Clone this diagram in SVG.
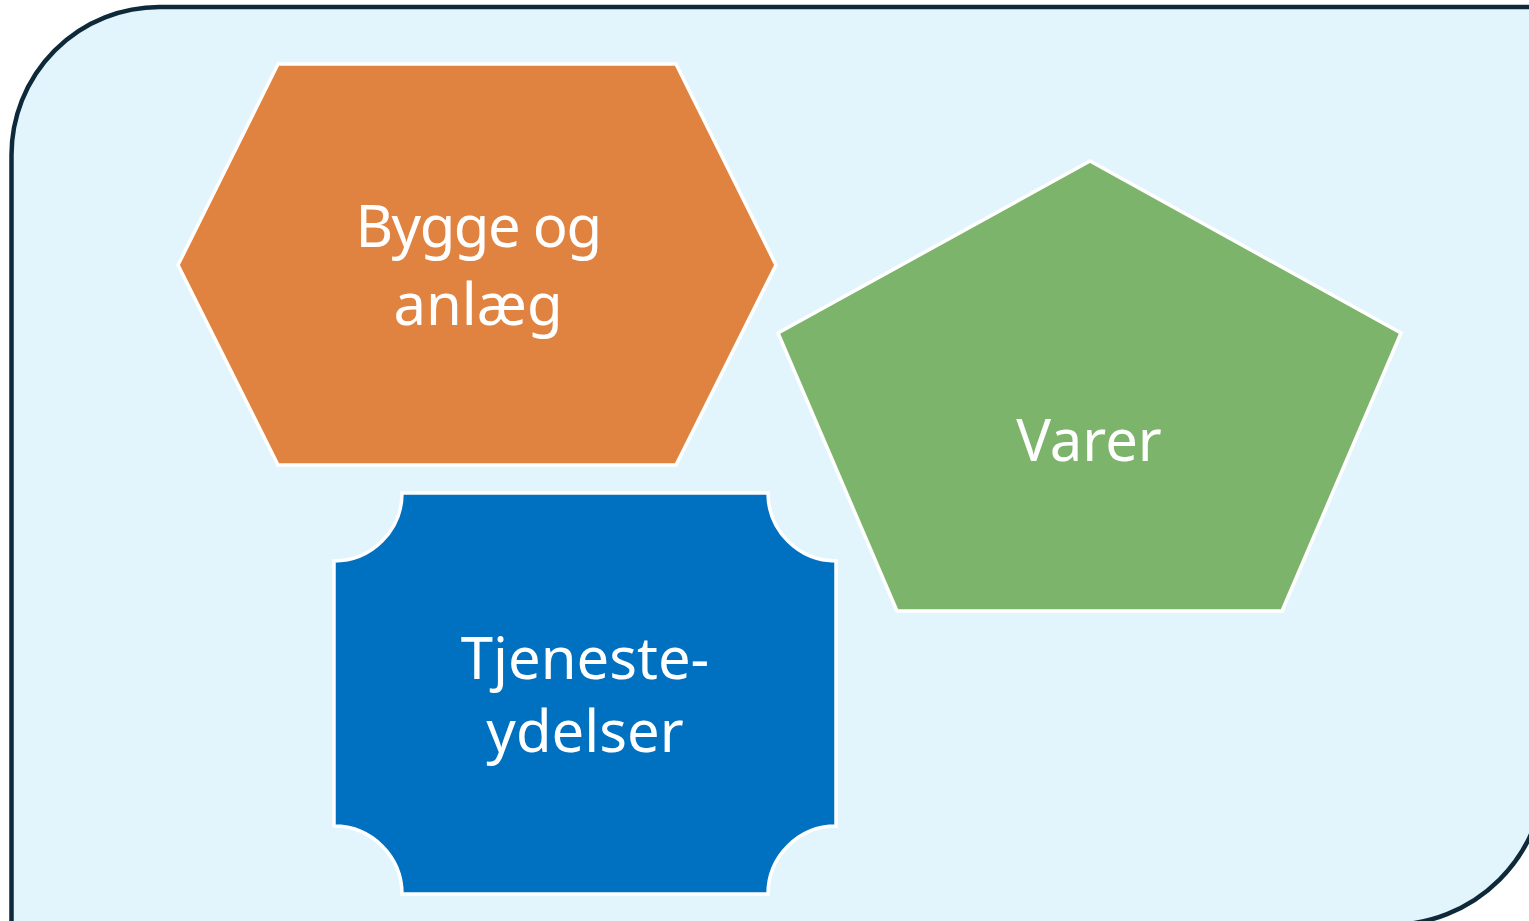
<svg xmlns="http://www.w3.org/2000/svg" width="1529" height="921" viewBox="0 0 1529 921">
<style>
.lbl{font-family:"Noto Sans","Open Sans","Liberation Sans",sans-serif;font-size:58px;fill:#ffffff;text-anchor:middle}
.node{stroke:#ffffff;stroke-width:3.5}
</style>
<rect width="1529" height="921" fill="#ffffff"/>
<path id="bg" d="M11.5 930 V155 A148 148 0 0 1 159.5 7 H1545 V770 A155 155 0 0 1 1390 925 H11.5" fill="#e3f5fc" stroke="#0e2a3a" stroke-width="4.5"/>
<g id="bygge">
<polygon class="node" fill="#e08240" points="278,64 676,64 776,265 676,465 278,465 178,265"/>
<text class="lbl" x="478" y="247" letter-spacing="-1.5">Bygge og</text>
<text class="lbl" x="478" y="325">anlæg</text>
</g>
<g id="varer">
<polygon class="node" fill="#7db46c" points="1090,161 1401,333 1282,611 897,611 778,333"/>
<text class="lbl" x="1089" y="461">Varer</text>
</g>
<g id="tjeneste">
<path class="node" fill="#0070c0" d="M402 493 H768 A68 68 0 0 0 836 561 V826 A68 68 0 0 0 768 894 H402 A68 68 0 0 0 334 826 V561 A68 68 0 0 0 402 493 Z"/>
<text class="lbl" x="585" y="679">Tjeneste-</text>
<text class="lbl" x="585" y="752">ydelser</text>
</g>
<g id="connectors"/>
</svg>
